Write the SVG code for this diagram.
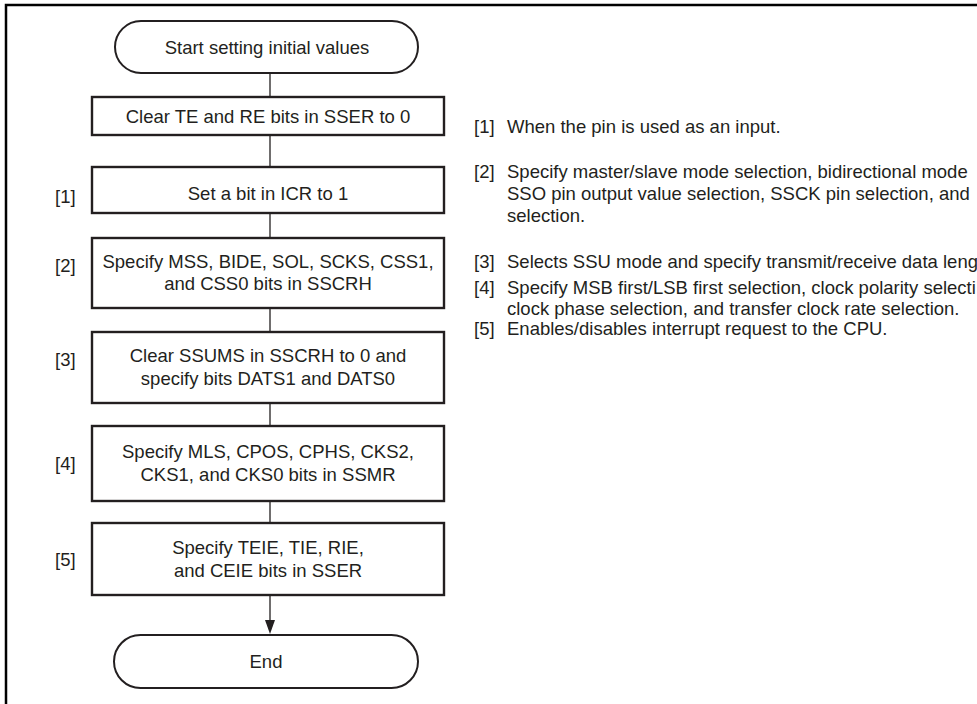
<svg xmlns="http://www.w3.org/2000/svg" width="977" height="704" viewBox="0 0 977 704">
<style>
text{font-family:"Liberation Sans",Arial,sans-serif;font-size:18.5px;fill:#231f20}
.c{text-anchor:middle}
.box{fill:#fff;stroke:#231f20;stroke-width:2.4}
.term{fill:#fff;stroke:#231f20;stroke-width:2}
.ln{stroke:#231f20;stroke-width:1.3;fill:none}
.frame{stroke:#000;stroke-width:2.5;fill:none}
</style>
<rect width="977" height="704" fill="#fff"/>
<path class="frame" d="M6,704 V5 H977"/>
<g id="connectors">
<line class="ln" x1="270" y1="73" x2="270" y2="97"/>
<line class="ln" x1="270" y1="135" x2="270" y2="167"/>
<line class="ln" x1="270" y1="213" x2="270" y2="238"/>
<line class="ln" x1="270" y1="308" x2="270" y2="332"/>
<line class="ln" x1="270" y1="403" x2="270" y2="426"/>
<line class="ln" x1="270" y1="501" x2="270" y2="523"/>
<path class="ln" d="M270,595 V621"/>
<path d="M265,620 L275,620 L270,634 Z" fill="#231f20"/>
</g>
<g id="start">
<rect class="term" x="115" y="21" width="303" height="52" rx="26" ry="26"/>
<text class="c" x="267" y="53.5">Start setting initial values</text>
</g>
<g id="step0">
<rect class="box" x="92" y="97" width="352" height="38"/>
<text class="c" x="268" y="122.5">Clear TE and RE bits in SSER to 0</text>
</g>
<g id="step1">
<text x="55" y="203">[1]</text>
<rect class="box" x="92" y="167" width="352" height="46"/>
<text class="c" x="268" y="200">Set a bit in ICR to 1</text>
</g>
<g id="step2">
<text x="55" y="272">[2]</text>
<rect class="box" x="92" y="238" width="352" height="70"/>
<text class="c" x="268" y="268">Specify MSS, BIDE, SOL, SCKS, CSS1,</text>
<text class="c" x="268" y="290">and CSS0 bits in SSCRH</text>
</g>
<g id="step3">
<text x="55" y="366">[3]</text>
<rect class="box" x="92" y="332" width="352" height="71"/>
<text class="c" x="268" y="362">Clear SSUMS in SSCRH to 0 and</text>
<text class="c" x="268" y="385">specify bits DATS1 and DATS0</text>
</g>
<g id="step4">
<text x="55" y="470">[4]</text>
<rect class="box" x="92" y="426" width="352" height="75"/>
<text class="c" x="268" y="458">Specify MLS, CPOS, CPHS, CKS2,</text>
<text class="c" x="268" y="481">CKS1, and CKS0 bits in SSMR</text>
</g>
<g id="step5">
<text x="55" y="566">[5]</text>
<rect class="box" x="92" y="523" width="352" height="72"/>
<text class="c" x="268" y="554">Specify TEIE, TIE, RIE,</text>
<text class="c" x="268" y="577">and CEIE bits in SSER</text>
</g>
<g id="end">
<rect class="term" x="114" y="635" width="304" height="53" rx="26.5" ry="26.5"/>
<text class="c" x="266" y="668">End</text>
</g>
<g id="notes">
<text x="474" y="133">[1]</text>
<text x="507" y="133">When the pin is used as an input.</text>
<text x="474" y="178">[2]</text>
<text x="507" y="178">Specify master/slave mode selection, bidirectional mode</text>
<text x="507" y="200">SSO pin output value selection, SSCK pin selection, and</text>
<text x="507" y="222">selection.</text>
<text x="474" y="268">[3]</text>
<text x="507" y="268">Selects SSU mode and specify transmit/receive data leng</text>
<text x="474" y="294">[4]</text>
<text x="507" y="294">Specify MSB first/LSB first selection, clock polarity selecti</text>
<text x="507" y="315">clock phase selection, and transfer clock rate selection.</text>
<text x="474" y="335">[5]</text>
<text x="507" y="335">Enables/disables interrupt request to the CPU.</text>
</g>
</svg>
